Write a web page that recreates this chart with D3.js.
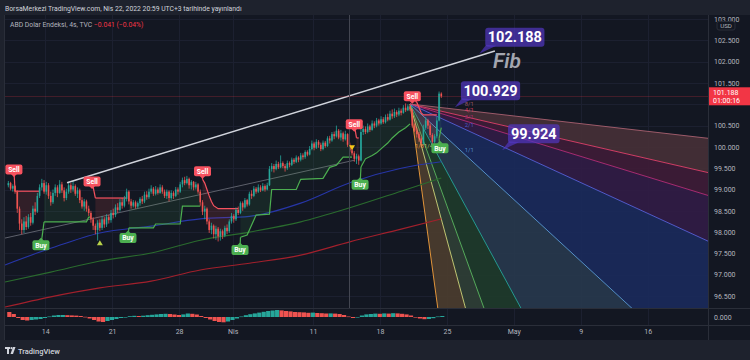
<!DOCTYPE html>
<html><head><meta charset="utf-8">
<script src="https://cdn.jsdelivr.net/npm/d3@7"></script>
<style>
html,body{margin:0;padding:0;background:#1e222d;}
svg{display:block;font-family:"Roboto","Liberation Sans",sans-serif;}
</style></head><body>
<svg id="c" width="750" height="360"></svg>
<script>
// ---------------- DATA ----------------
const firstOpen = 99.10;
const closes = [
99.15,99.02,99.08,98.95,98.55,98.20,98.05,98.25,98.12,98.35,98.22,98.55,98.48,98.85,99.05,
99.15,98.95,99.10,98.85,98.70,98.92,99.05,98.92,99.12,98.98,98.80,98.95,99.10,99.00,99.08,98.90,98.98,98.75,98.60,98.72,98.55,98.45,
98.30,98.15,98.05,98.22,98.10,98.30,98.18,98.35,98.28,98.45,98.40,98.58,98.52,98.70,98.62,98.78,98.95,
98.72,98.62,98.70,98.60,98.68,98.78,98.72,98.88,98.82,98.95,99.02,98.90,99.00,98.92,99.05,98.95,98.85,98.95,98.80,98.92,98.85,99.00,98.95,99.12,99.22,99.15,99.25,99.10,99.18,99.05,99.12,98.95,
98.70,98.48,98.55,98.25,98.05,98.15,97.95,98.08,97.90,98.02,97.92,98.10,98.02,98.25,98.38,98.30,98.52,98.45,
98.68,98.58,98.75,98.65,98.90,98.85,99.02,98.95,99.05,98.98,99.08,99.00,99.10,99.48,99.55,99.48,99.60,99.52,99.62,99.55,99.50,99.62,99.58,99.70,99.65,99.75,99.70,99.80,99.76,99.88,99.82,99.95,100.08,99.98,100.12,100.05,99.95,100.10,100.02,100.20,100.15,100.30,100.25,100.38,100.22,100.32,100.18,100.30,100.05,99.92,99.85,99.72,99.78,99.68,
100.35,100.42,100.35,100.48,100.40,100.55,100.50,100.62,100.55,100.65,100.58,100.70,100.64,100.78,100.72,100.82,100.76,100.85,100.80,100.92,100.86,100.95,100.88,
100.50,100.38,100.30,100.20,100.08,100.45,100.62,100.50,100.28,100.12,100.25,100.62,101.25,101.188];
const highs = [
99.20,99.18,99.12,99.10,98.98,98.60,98.30,98.35,98.38,98.42,98.45,98.62,98.70,98.92,99.12,
99.25,99.22,99.18,99.15,98.95,99.00,99.12,99.10,99.22,99.18,99.05,99.02,99.18,99.15,99.20,99.12,99.05,99.02,98.82,98.78,98.76,98.62,
98.50,98.35,98.20,98.28,98.30,98.38,98.35,98.42,98.40,98.52,98.55,98.65,98.68,98.78,98.80,98.85,99.02,
98.98,98.78,98.75,98.74,98.72,98.82,98.85,98.95,98.96,99.02,99.10,99.06,99.08,99.05,99.12,99.10,99.00,99.00,98.98,98.98,98.96,99.06,99.05,99.18,99.28,99.30,99.32,99.28,99.22,99.20,99.18,99.15,
99.00,98.75,98.62,98.58,98.30,98.22,98.18,98.15,98.12,98.08,98.06,98.15,98.18,98.30,98.45,98.42,98.58,98.60,
98.72,98.72,98.80,98.78,98.95,98.98,99.08,99.06,99.12,99.10,99.15,99.12,99.16,99.55,99.62,99.60,99.68,99.65,99.80,99.66,99.60,99.68,99.66,99.75,99.74,99.80,99.78,99.86,99.85,99.92,99.92,100.02,100.15,100.12,100.18,100.16,100.10,100.15,100.14,100.25,100.26,100.35,100.36,100.50,100.42,100.40,100.36,100.38,100.32,100.10,99.96,99.90,99.84,99.82,
100.42,100.50,100.48,100.55,100.52,100.62,100.60,100.68,100.66,100.72,100.70,100.76,100.78,100.85,100.88,100.90,100.86,100.92,100.90,100.98,101.02,101.00,100.98,
100.90,100.55,100.45,100.35,100.25,100.52,100.70,100.66,100.55,100.32,100.30,100.70,101.30,101.28];
const lows = [
99.05,98.98,98.95,98.90,98.45,98.05,97.95,97.98,98.05,98.08,98.15,98.18,98.40,98.45,98.80,
98.98,98.90,98.88,98.78,98.62,98.66,98.85,98.82,98.90,98.92,98.72,98.75,98.90,98.92,98.95,98.85,98.80,98.68,98.55,98.50,98.48,98.38,
98.22,98.05,97.95,97.80,98.02,98.05,98.10,98.12,98.20,98.22,98.32,98.35,98.45,98.48,98.55,98.58,98.72,
98.65,98.55,98.58,98.55,98.56,98.62,98.66,98.68,98.76,98.78,98.90,98.85,98.86,98.88,98.90,98.90,98.80,98.78,98.72,98.76,98.78,98.82,98.88,98.92,99.05,99.10,99.12,99.02,99.00,98.98,99.00,98.90,
98.62,98.40,98.30,98.18,97.98,97.95,97.85,97.82,97.78,97.80,97.84,97.88,97.95,97.98,98.20,98.22,98.26,98.40,
98.42,98.50,98.55,98.60,98.62,98.78,98.82,98.90,98.92,98.94,98.96,98.95,98.98,99.08,99.42,99.40,99.45,99.48,99.50,99.50,99.42,99.46,99.52,99.55,99.60,99.62,99.64,99.66,99.70,99.72,99.78,99.80,99.92,99.92,99.95,99.98,99.90,99.92,99.98,100.00,100.08,100.12,100.18,100.22,100.18,100.15,100.12,100.15,100.00,99.88,99.80,99.65,99.60,99.58,
99.66,100.28,100.30,100.32,100.35,100.38,100.44,100.46,100.50,100.52,100.54,100.55,100.60,100.62,100.66,100.68,100.70,100.72,100.74,100.78,100.82,100.84,100.84,
100.45,100.35,100.22,100.12,100.00,100.05,100.40,100.42,100.22,100.05,100.08,100.20,100.60,101.15];

const timeTickBars = [16.5,46.5,76.5,100.5,136.5,166.5,196.5,226.5,256.5,286.5];
const timeTickLabels = ["14","21","28","Nis","11","18","25","May","9","16"];
const priceTicks = [96.5,97,97.5,98,98.5,99,99.5,100,100.5,101,101.5,102,102.5,103];
const lastPrice = 101.188;

// Moving averages (anchor bars, prices)
const maBars = [-1.5,19,41,64,86,108,131,153,176,194];
const maBlue  = [97.23,97.62,97.98,98.14,98.31,98.37,98.68,99.16,99.50,99.65];
const maGreen = [96.83,97.06,97.32,97.51,97.81,98.00,98.24,98.57,98.96,99.27];
const maRed   = [96.24,96.48,96.69,96.85,97.11,97.27,97.46,97.77,98.07,98.31];

// Supertrend segments [bar, price]
const stDown1 = [[3,98.96],[14,98.96]];
const stUp1   = [[16,98.24],[35,98.24],[36,98.35],[37,98.35]];
const stDown2 = [[39,98.80],[53,98.80]];
const stUp2   = [[54,98.10],[65,98.10],[66,98.19],[77,98.19],[78,98.61],[86,98.61]];
const stDown3 = [[87,99.24],[88,99.15],[89,99.00],[90,98.85],[91,98.72],[92,98.62],[94,98.55],[103,98.55]];
const stUp3   = [[104,97.88],[107,97.93],[111,98.40],[117,98.42],[118,99.00],[129,99.00],[131,99.24],[141,99.26],[144,99.52],[147,99.57],[150,99.76],[154,99.76]];
const stDown4 = [[156,100.21],[157,100.21]];
const stUp4   = [[158,99.53],[160,99.72],[163,99.80],[165,99.86],[168,100.00],[170,100.09],[172,100.21],[175,100.35],[178,100.45],[180,100.54]];
const stDown5 = [[182,101.10],[183,101.05],[185,100.80],[186,100.75],[192,100.75]];
const stUp5   = [[193,100.20],[194,100.45]];

const sellBars = [2.5,37.5,87,155,181];
const sellPrices = [99.47,99.19,99.43,100.53,101.19];
const buyBars = [14.6,53.6,103.8,157.6,193.4];
const buyPrices = [97.69,97.86,97.58,99.11,99.97];

// MACD histogram (one value per two bars)
const macdHist = [0.05,0.03,-0.01,-0.03,-0.035,-0.03,-0.025,-0.02,-0.01,0.005,0.015,0.02,0.02,0.018,0.016,0.014,0.01,0.002,
-0.015,-0.03,-0.045,-0.05,-0.04,-0.03,-0.02,-0.01,0.0,0.008,0.012,0.01,0.013,0.018,0.022,0.026,0.03,0.032,0.03,0.025,0.02,
0.026,0.035,0.032,0.025,0.01,-0.01,-0.025,-0.04,-0.05,-0.053,-0.045,-0.03,-0.015,0.005,0.018,0.028,0.036,0.044,0.052,0.06,
0.065,0.07,0.066,0.06,0.056,0.05,0.048,0.046,0.042,0.044,0.04,0.038,0.035,0.036,0.034,0.03,0.02,0.005,-0.01,-0.005,0.015,
0.026,0.03,0.034,0.032,0.036,0.034,0.038,0.036,0.032,0.026,0.015,0.0,-0.015,-0.022,-0.02,-0.012,0.005,0.01];

// Drawings
const whiteLine = [[26.3,99.16],[218,102.25]];
const grayLine = [[-1.5,97.86],[155.3,99.69]];
const vLineBar = 152.6;
const fanOrigin = [180,101.007];
const fanPoint = [193,100.38];
const fanLevels = ["1/8","1/4","1/3","1/2","1/1","2/1","3/1","4/1","8/1"];
const fanFactors = [8,4,3,2,1,1/2,1/3,1/4,1/8];
const fanLineColors = ["#f5a03c","#cfd57a","#5cb860","#26a69a","#5b9bd5","#5561d8","#b42c78","#e0406a","#a86070"];
const fanFillColors = ["#4a3c2e","#2e3e36","#1e3a2b","#27384c","#1a2a5a","#301c45","#3d1c37","#452f37"];
// label positions of the fan levels that are visible: [bar, price]
const fanLabelPos = {"1/8":[182.2,99.97],"1/4":[186.3,99.97],"1/1":[204.5,99.87],"2/1":[204.5,100.47],"3/1":[204.5,100.66],"4/1":[204.5,100.81],"8/1":[204.5,100.96]};
const annTexts = ["102.188","100.929","99.924"];
const annBars = [211,200.1,221.2];
const annPrices = [102.188,100.929,99.924];
const markUp = [41,97.74];
const markDown = [154,99.97];

// ---------------- CHART ----------------
const svg = d3.select("#c");
const W = 750, H = 360;
const PL = 4, PR = 708, PT = 15, PB = 308, MB = 325, TB = 340;
const x = d3.scaleLinear().domain([-1.5,313.5]).range([5,708]);
const y = d3.scaleLinear().domain([96.5,103]).range([296,19.1]);
const ym = d3.scaleLinear().domain([-0.08,0.08]).range([325,309]);
const opens = closes.map((c,i)=> i===0 ? firstOpen : closes[i-1]);

svg.append("rect").attr("width",W).attr("height",H).attr("fill","#1e222d");
svg.append("rect").attr("x",PL).attr("y",PT).attr("width",W-PL).attr("height",TB-PT).attr("fill","#131722");

const defs = svg.append("defs");
defs.append("clipPath").attr("id","pane").append("rect").attr("x",PL).attr("y",PT).attr("width",PR-PL).attr("height",PB-PT);
defs.append("clipPath").attr("id","mp").append("rect").attr("x",PL).attr("y",PB).attr("width",PR-PL).attr("height",MB-PB);

// grid
const grid = svg.append("g").attr("stroke","#1c2030").attr("stroke-width",1);
timeTickBars.forEach(b=>{ const xx=Math.round(x(b))+0.5;
  grid.append("line").attr("x1",xx).attr("x2",xx).attr("y1",PT).attr("y2",MB); });
priceTicks.forEach(p=>{ const yy=Math.round(y(p))+0.5;
  grid.append("line").attr("x1",PL).attr("x2",PR).attr("y1",yy).attr("y2",yy); });

const pane = svg.append("g").attr("clip-path","url(#pane)");

// fan
const slope = (fanPoint[1]-fanOrigin[1])/(fanPoint[0]-fanOrigin[0]);
const fanEnd = f => { const db = 400; return [fanOrigin[0]+db, fanOrigin[1]+slope*f*db]; };
const P = d => [x(d[0]), y(d[1])];
const fanG = pane.append("g");
for (let i=0;i<fanFactors.length-1;i++){
  const a = P(fanEnd(fanFactors[i])), b = P(fanEnd(fanFactors[i+1])), o = P(fanOrigin);
  fanG.append("path").attr("d", d3.line()([o,a,b])+"Z").attr("fill",fanFillColors[i]).attr("opacity",0.93);
}
fanFactors.forEach((f,i)=>{
  fanG.append("path").attr("d", d3.line()([P(fanOrigin),P(fanEnd(f))]))
    .attr("stroke",fanLineColors[i]).attr("stroke-width",1).attr("stroke-opacity",0.9).attr("fill","none");
});

// moving averages
const maLine = d3.line().x(d=>x(d[0])).y(d=>y(d[1])).curve(d3.curveMonotoneX);
[[maRed,"#a2202c"],[maGreen,"#2a6b2e"],[maBlue,"#2736a8"]].forEach(([arr,col])=>{
  pane.append("path").attr("d", maLine(maBars.map((b,i)=>[b,arr[i]])))
    .attr("fill","none").attr("stroke",col).attr("stroke-width",1.1);
});

// gray trend line
pane.append("path").attr("d", d3.line()(grayLine.map(P))).attr("stroke","#5d606b").attr("stroke-width",1).attr("fill","none");

// supertrend fills and lines
const segs = [[stDown1,"d"],[stUp1,"u"],[stDown2,"d"],[stUp2,"u"],[stDown3,"d"],[stUp3,"u"],[stDown4,"d"],[stUp4,"u"],[stDown5,"d"],[stUp5,"u"]];
segs.forEach(([pts,t])=>{
  const b0 = Math.ceil(pts[0][0]), b1 = Math.floor(pts[pts.length-1][0]);
  const mids = [];
  for (let b=b1;b>=b0;b--) mids.push([b,(opens[b]+closes[b])/2]);
  const poly = pts.concat(mids).map(P);
  pane.append("path").attr("d", d3.line()(poly)+"Z")
    .attr("fill", t==="d" ? "rgba(255,82,82,0.13)" : "rgba(76,175,80,0.11)");
});
segs.forEach(([pts,t])=>{
  pane.append("path").attr("d", d3.line()(pts.map(P))).attr("fill","none")
    .attr("stroke", t==="d" ? "#f7525f" : "#4caf50").attr("stroke-width",1.2);
});
const downSegs = segs.filter(s=>s[1]==="d"), upSegs = segs.filter(s=>s[1]==="u");
sellBars.forEach((b,i)=>{ pane.append("path").attr("d", d3.line()([P([b,sellPrices[i]]),P(downSegs[i][0][0])]))
  .attr("stroke","#f7525f").attr("stroke-width",1.2); });
buyBars.forEach((b,i)=>{ pane.append("path").attr("d", d3.line()([P([b,buyPrices[i]]),P(upSegs[i][0][0])]))
  .attr("stroke","#4caf50").attr("stroke-width",1.2); });

// candles
const cg = pane.append("g");
closes.forEach((c,i)=>{
  const o = opens[i], up = c>=o, col = up ? "#26a69a" : "#ef5350";
  const xx = x(i);
  cg.append("line").attr("x1",xx).attr("x2",xx).attr("y1",y(highs[i])).attr("y2",y(lows[i])).attr("stroke",col).attr("stroke-width",0.8);
  const top = y(Math.max(o,c)), bot = y(Math.min(o,c));
  cg.append("rect").attr("x",xx-0.8).attr("width",1.6).attr("y",top).attr("height",Math.max(0.8,bot-top)).attr("fill",col);
});

// white trend line
pane.append("path").attr("d", d3.line()(whiteLine.map(P))).attr("stroke","#d1d4dc").attr("stroke-width",1.5).attr("fill","none");
// vertical line
pane.append("line").attr("x1",Math.round(x(vLineBar))+0.5).attr("x2",Math.round(x(vLineBar))+0.5).attr("y1",PT).attr("y2",PB).attr("stroke","#434651").attr("stroke-width",1);
// last price line
pane.append("line").attr("x1",PL).attr("x2",PR).attr("y1",Math.round(y(lastPrice))+0.5).attr("y2",Math.round(y(lastPrice))+0.5).attr("stroke","#f23645").attr("stroke-opacity",0.22).attr("stroke-width",1);

// markers
pane.append("path").attr("d",`M${x(markUp[0])},${y(markUp[1])-3} l3,5 l-6,0 Z`).attr("fill","#b9d34a");
pane.append("path").attr("d",`M${x(markDown[0])-3},${y(markDown[1])-3} l6,0 l-3,5 Z`).attr("fill","#f5c518");

// fan labels (drawn before the signal labels so the Buy tag sits on top)
const fanLab = pane.append("g").attr("font-size",5.8);
fanLevels.forEach((lv,i)=>{
  const pos = fanLabelPos[lv];
  if (!pos) return;
  fanLab.append("text").attr("x",x(pos[0])).attr("y",y(pos[1])).attr("fill",fanLineColors[i]).attr("opacity",0.9).text(lv);
});

// buy/sell labels
function sig(b,p,txt,col,isSell){
  const cx = x(b), cy = y(p), w = 17, h = 10;
  const g = pane.append("g");
  if (isSell) g.append("path").attr("d",`M${cx-3},${cy+h/2-0.5} l3,3 l3,-3 Z`).attr("fill",col);
  else g.append("path").attr("d",`M${cx-3},${cy-h/2+0.5} l3,-3 l3,3 Z`).attr("fill",col);
  g.append("rect").attr("x",cx-w/2).attr("y",cy-h/2).attr("width",w).attr("height",h).attr("rx",2).attr("fill",col);
  g.append("text").attr("x",cx).attr("y",cy+2.4).attr("text-anchor","middle").attr("font-size",6.8).attr("font-weight","bold").attr("fill","#fff").text(txt);
}
sellBars.forEach((b,i)=>sig(b,sellPrices[i],"Sell","#f7525f",true));
buyBars.forEach((b,i)=>sig(b,buyPrices[i],"Buy","#4caf50",false));

// Fib text
svg.append("text").attr("x",493).attr("y",68).attr("font-size",21).attr("font-style","italic").attr("font-weight",600)
  .attr("fill","#a3a6af").text("Fib");

// annotations
annTexts.forEach((t,i)=>{
  const ax = x(annBars[i]), ay = y(annPrices[i]);
  const w = t.length*7.6+6, h = 19;
  const bx = ax+6, by = ay-7-h;
  const g = svg.append("g");
  g.append("path").attr("d",`M${bx+1},${by+h-2} L${ax},${ay} L${bx+11},${by+h-1} Z`).attr("fill","rgba(80,54,190,0.7)");
  g.append("rect").attr("x",bx).attr("y",by).attr("width",w).attr("height",h).attr("rx",3).attr("fill","rgba(80,54,190,0.72)");
  g.append("text").attr("x",bx+w/2).attr("y",by+h/2+5).attr("text-anchor","middle").attr("font-size",14.5).attr("font-weight","bold").attr("fill","#fff").text(t);
});

// MACD pane
const mg = svg.append("g").attr("clip-path","url(#mp)");
macdHist.forEach((v,j)=>{
  const prev = j===0 ? 0.06 : macdHist[j-1];
  const col = v>=prev ? "#26a69a" : "#ef5350";
  const x0 = x(2*j-0.5), x1 = x(2*j+1.5);
  mg.append("rect").attr("x",x0).attr("width",x1-x0-0.3).attr("y",Math.min(ym(v),ym(0))).attr("height",Math.max(0.6,Math.abs(ym(v)-ym(0)))).attr("fill",col);
});

// separators
const sep = svg.append("g").attr("stroke","#2a2e39").attr("stroke-width",1);
sep.append("line").attr("x1",PL).attr("x2",W).attr("y1",PB+0.5).attr("y2",PB+0.5);
sep.append("line").attr("x1",PL).attr("x2",W).attr("y1",MB+0.5).attr("y2",MB+0.5);
sep.append("line").attr("x1",PR+0.5).attr("x2",PR+0.5).attr("y1",PT).attr("y2",TB);
sep.append("line").attr("x1",PL+0.5).attr("x2",PL+0.5).attr("y1",PT).attr("y2",TB);

// axes
const xAxis = d3.axisBottom(x).tickValues(timeTickBars).tickFormat((d,i)=>timeTickLabels[i]).tickSize(0).tickPadding(4);
const gx = svg.append("g").attr("transform",`translate(0,${MB})`).call(xAxis);
gx.select(".domain").remove();
gx.selectAll("text").attr("fill","#b2b5be").attr("font-size",7).attr("font-family","Roboto, sans-serif");

const yAxis = d3.axisRight(y).tickValues(priceTicks.filter(p=>Math.abs(y(p)-y(lastPrice))>10)).tickFormat(d3.format(".3f")).tickSize(0).tickPadding(6);
const gy = svg.append("g").attr("transform",`translate(${PR},0)`).call(yAxis);
gy.select(".domain").remove();
gy.selectAll("text").attr("fill","#b2b5be").attr("font-size",7).attr("font-family","Roboto, sans-serif");

svg.append("text").attr("x",714).attr("y",ym(0)+2.5).attr("font-size",7).attr("fill","#b2b5be").text("0.000");

// USD tag
svg.append("rect").attr("x",717).attr("y",21.5).attr("width",18).attr("height",8.5).attr("rx",2).attr("fill","#131722").attr("stroke","#2a2e39");
svg.append("text").attr("x",726).attr("y",28.3).attr("text-anchor","middle").attr("font-size",6.2).attr("fill","#b2b5be").text("USD");

// last price tag
const ly = y(lastPrice);
svg.append("rect").attr("x",PR+1).attr("y",ly-9).attr("width",W-PR-1).attr("height",18).attr("fill","#f23645");
svg.append("text").attr("x",713).attr("y",ly-1.5).attr("font-size",7).attr("fill","#fff").text(d3.format(".3f")(lastPrice));
svg.append("text").attr("x",713).attr("y",ly+6.5).attr("font-size",7).attr("fill","#fff").text("01:00:16");

// header & legend
svg.append("text").attr("x",5).attr("y",11).attr("font-size",6.8).attr("fill","#d1d4dc")
  .text("BorsaMerkezi TradingView.com, Nis 22, 2022 20:59 UTC+3 tarihinde yayınlandı");
const lg = svg.append("text").attr("x",10).attr("y",26.5).attr("font-size",6.8);
lg.append("tspan").attr("fill","#b2b5be").text("ABD Dolar Endeksi, 4s, TVC  ");
lg.append("tspan").attr("fill","#f23645").text("−0.041 (−0.04%)");

// footer logo
const fg = svg.append("g").attr("fill","#d1d4dc");
fg.append("rect").attr("x",5).attr("y",347).attr("width",5).attr("height",2);
fg.append("rect").attr("x",7).attr("y",347).attr("width",2).attr("height",7);
fg.append("circle").attr("cx",11.5).attr("cy",348.2).attr("r",1.1);
fg.append("path").attr("d","M13,347 L15.5,347 L13,354 L10.5,354 Z");
svg.append("text").attr("x",18).attr("y",354).attr("font-size",7.5).attr("font-weight",500).attr("fill","#d1d4dc").text("TradingView");
</script>
</body></html>
